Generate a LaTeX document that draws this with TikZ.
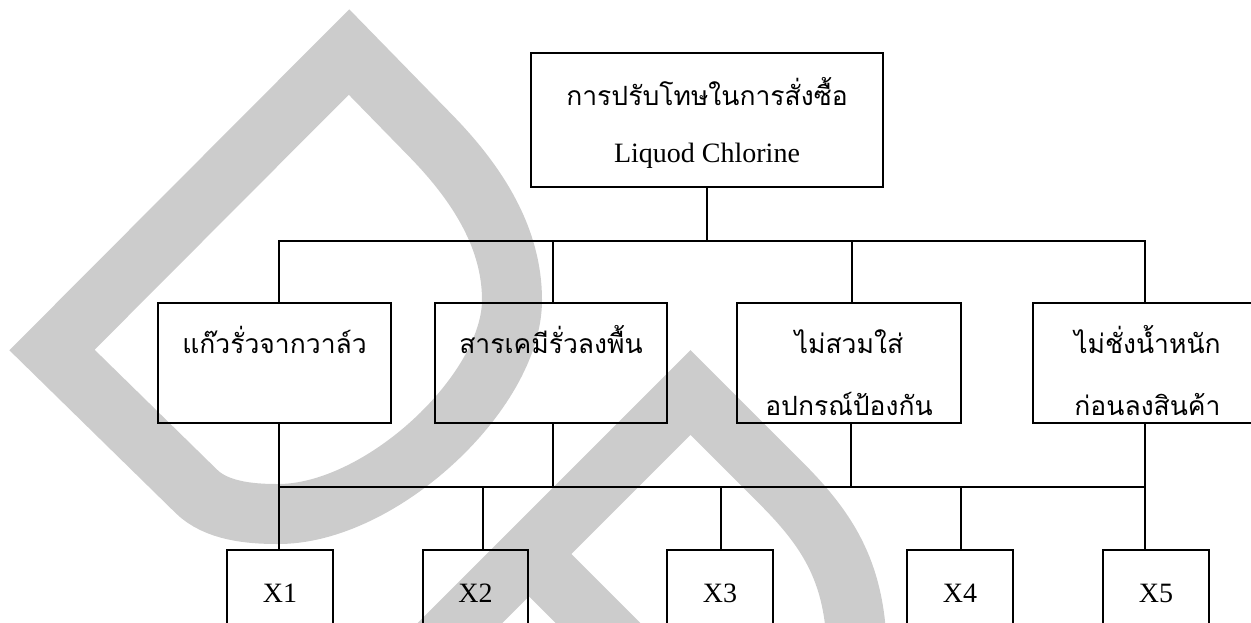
\documentclass[tikz,border=0pt]{standalone}
\usepackage{fontspec}
\setmainfont{Liberation Serif}
\newfontfamily\thaifont[Script=Thai]{Loma}
\begin{document}
\begin{tikzpicture}[x=1pt,y=-1pt,line width=1.3pt,
  box/.style={draw, inner sep=0pt},
  th/.style={font=\thaifont\fontsize{26.5}{30}\selectfont, anchor=base, inner sep=0pt},
  lat/.style={font=\fontsize{28}{32}\selectfont, anchor=base, inner sep=0pt},
  wm/.style={draw=black!20, line width=60pt, line join=miter}]
\useasboundingbox (0,0) rectangle (1251,622);
\clip (0,0) rectangle (1251,622);
% watermark
\draw[wm] (52,350) -- (349,52) -- (430,135) .. controls (480,186) and (512,240) .. (512,300)
  .. controls (512,392) and (380,515) .. (277,514) .. controls (250,514) and (216,511) .. (196,491) -- cycle;
\draw[wm] (380,703) -- (690.5,392.5) -- (780,482) .. controls (830,532) and (857,575) .. (857,660);
\draw[wm, line join=round] (529,554) -- (640,665);
% boxes
\node[box, minimum width=352pt, minimum height=134pt] (top) at (707,120) {};
\node[box, minimum width=233pt, minimum height=120pt] (b1) at (274.5,363) {};
\node[box, minimum width=232pt, minimum height=120pt] (b2) at (551,363) {};
\node[box, minimum width=224pt, minimum height=120pt] (b3) at (849,363) {};
\node[box, minimum width=233pt, minimum height=120pt] (b4) at (1149.5,363) {};
\node[box, minimum width=106pt, minimum height=86pt] (x1) at (280,593) {};
\node[box, minimum width=105pt, minimum height=86pt] (x2) at (475.5,593) {};
\node[box, minimum width=106pt, minimum height=86pt] (x3) at (720,593) {};
\node[box, minimum width=106pt, minimum height=86pt] (x4) at (960,593) {};
\node[box, minimum width=106pt, minimum height=86pt] (x5) at (1156,593) {};
% texts
\node[th] (tt) at (707,105) {การปรับโทษในการสั่งซื้อ};
\node[lat] (tl) at (707,162) {Liquod Chlorine};
\node[th] (t1) at (274.5,353) {แก๊วรั่วจากวาล์ว};
\node[th] (t2) at (551,353) {สารเคมีรั่วลงพื้น};
\node[th] (t3a) at (849,353) {ไม่สวมใส่};
\node[th] (t3b) at (849,415) {อปกรณ์ป้องกัน};
\node[th] (t4a) at (1147.5,353) {ไม่ชั่งน้ำหนัก};
\node[th] (t4b) at (1147.5,415) {ก่อนลงสินค้า};
\node[lat] (l1) at (280,602) {X1};
\node[lat] (l2) at (475.5,602) {X2};
\node[lat] (l3) at (720,602) {X3};
\node[lat] (l4) at (960,602) {X4};
\node[lat] (l5) at (1156,602) {X5};
% connectors
\coordinate (h1) at (279,241);
\coordinate (h2) at (553,241);
\coordinate (h3) at (852,241);
\coordinate (h5) at (1145,241);
\coordinate (q1) at (279,487);
\coordinate (q2) at (553,487);
\coordinate (q3) at (851,487);
\coordinate (q5) at (1145,487);
\coordinate (r2) at (483,487);
\coordinate (r3) at (721,487);
\coordinate (r4) at (961,487);
\draw (top.south) -- (top.south |- h1);
\draw (h1 |- b1.north) -- (h1) -- (h5) -- (h5 |- b4.north);
\draw (h2) -- (h2 |- b2.north);
\draw (h3) -- (h3 |- b3.north);
\draw (q1 |- b1.south) -- (q1 |- x1.north);
\draw (q5 |- b4.south) -- (q5 |- x5.north);
\draw (q1) -- (q5);
\draw (q2 |- b2.south) -- (q2);
\draw (q3 |- b3.south) -- (q3);
\draw (r2) -- (r2 |- x2.north);
\draw (r3) -- (r3 |- x3.north);
\draw (r4) -- (r4 |- x4.north);
\end{tikzpicture}
\end{document}
